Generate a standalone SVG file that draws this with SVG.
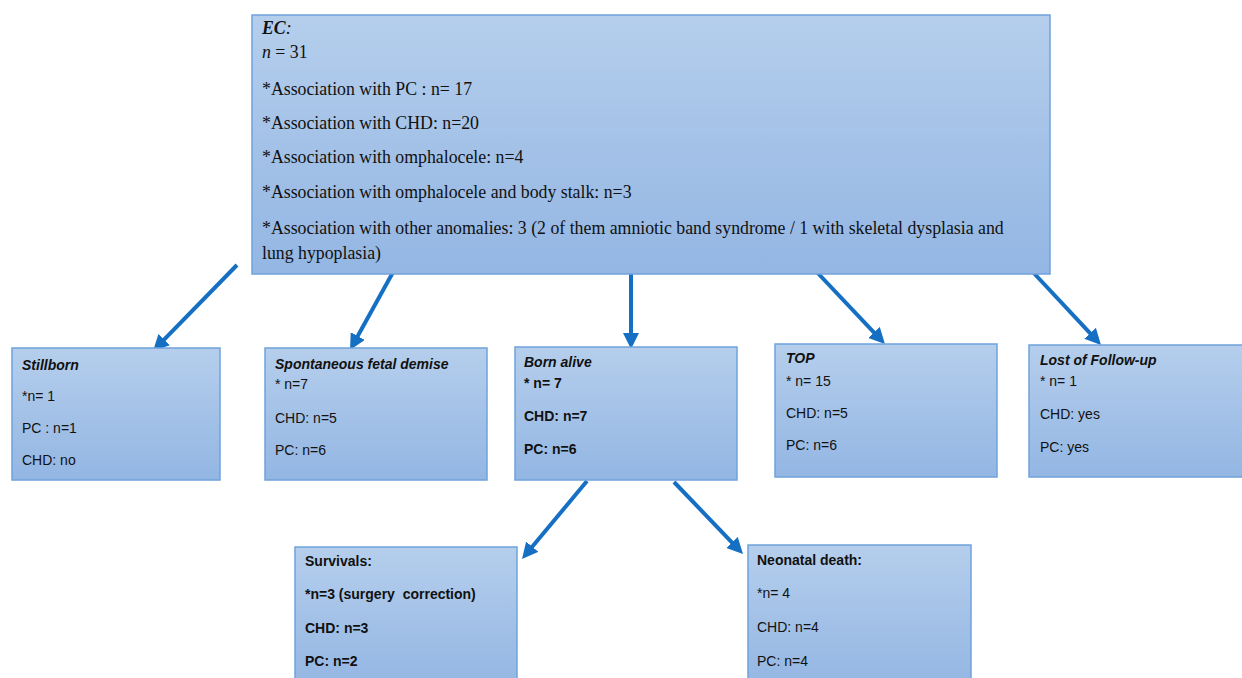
<svg xmlns="http://www.w3.org/2000/svg" width="1242" height="678" viewBox="0 0 1242 678">
<defs>
<linearGradient id="g" x1="0" y1="0" x2="0" y2="1">
<stop offset="0" stop-color="#B5CEEC"/>
<stop offset="1" stop-color="#93B6E3"/>
</linearGradient>
<marker id="ah" markerUnits="userSpaceOnUse" markerWidth="16" markerHeight="16" viewBox="0 0 16 16" refX="4" refY="8" orient="auto">
<path d="M0,0 L16,8 L0,16 z" fill="#1570C4"/>
</marker>
<style>
.box{fill:url(#g);stroke:#6FA3DC;stroke-width:1.5}
.ser{font-family:"Liberation Serif","Times New Roman",serif;font-size:17.8px;fill:#111}
.san{font-family:"Liberation Sans",Arial,sans-serif;font-size:14px;fill:#111}
.t{font-weight:bold;font-style:italic}
.b{font-weight:bold}
.arr{stroke:#1570C4;stroke-width:4;fill:none;marker-end:url(#ah)}
</style>
</defs>
<rect width="1242" height="678" fill="#fff"/>
<g id="connectors">
<line class="arr" x1="237" y1="265" x2="161.4" y2="342.4"/>
<line class="arr" x1="397" y1="265" x2="355.8" y2="339.5"/>
<line class="arr" x1="631" y1="265" x2="631" y2="337"/>
<line class="arr" x1="813" y1="268" x2="876.7" y2="335.3"/>
<line class="arr" x1="1030" y1="269" x2="1092.8" y2="336.2"/>
<line class="arr" x1="587" y1="481" x2="529.7" y2="549.8"/>
<line class="arr" x1="674" y1="482" x2="734.7" y2="545.3"/>
</g>
<g id="ec">
<rect class="box" x="252" y="15" width="798" height="259"/>
<text class="ser" x="262" y="34"><tspan font-weight="bold" font-style="italic">EC</tspan><tspan font-style="italic">:</tspan></text>
<text class="ser" x="262" y="58"><tspan font-style="italic">n</tspan> = 31</text>
<text class="ser" x="262" y="95">*Association with PC : n= 17</text>
<text class="ser" x="262" y="129">*Association with CHD: n=20</text>
<text class="ser" x="262" y="163">*Association with omphalocele: n=4</text>
<text class="ser" x="262" y="198">*Association with omphalocele and body stalk: n=3</text>
<text class="ser" x="262" y="234">*Association with other anomalies: 3 (2 of them amniotic band syndrome / 1 with skeletal dysplasia and</text>
<text class="ser" x="262" y="259">lung hypoplasia)</text>
</g>
<g id="stillborn">
<rect class="box" x="12" y="348" width="208" height="132"/>
<text class="san t" x="22" y="370">Stillborn</text>
<text class="san" x="22" y="401">*n= 1</text>
<text class="san" x="22" y="433">PC : n=1</text>
<text class="san" x="22" y="465">CHD: no</text>
</g>
<g id="spontaneous">
<rect class="box" x="265" y="348" width="222" height="132"/>
<text class="san t" x="275" y="369">Spontaneous fetal demise</text>
<text class="san" x="275" y="389">* n=7</text>
<text class="san" x="275" y="423">CHD: n=5</text>
<text class="san" x="275" y="455">PC: n=6</text>
</g>
<g id="bornalive">
<rect class="box" x="515" y="347" width="222" height="133"/>
<text class="san t" x="524" y="367">Born alive</text>
<text class="san b" x="524" y="388">* n= 7</text>
<text class="san b" x="524" y="421">CHD: n=7</text>
<text class="san b" x="524" y="454">PC: n=6</text>
</g>
<g id="top">
<rect class="box" x="775" y="344" width="222" height="133"/>
<text class="san t" x="786" y="363">TOP</text>
<text class="san" x="786" y="386">* n= 15</text>
<text class="san" x="786" y="418">CHD: n=5</text>
<text class="san" x="786" y="450">PC: n=6</text>
</g>
<g id="lost">
<rect class="box" x="1029" y="345" width="215" height="132"/>
<text class="san t" x="1040" y="365">Lost of Follow-up</text>
<text class="san" x="1040" y="386">* n= 1</text>
<text class="san" x="1040" y="419">CHD: yes</text>
<text class="san" x="1040" y="452">PC: yes</text>
</g>
<g id="survivals">
<rect class="box" x="295" y="547" width="222" height="140"/>
<text class="san b" x="305" y="566">Survivals:</text>
<text class="san b" x="305" y="599" xml:space="preserve">*n=3 (surgery  correction)</text>
<text class="san b" x="305" y="633">CHD: n=3</text>
<text class="san b" x="305" y="666">PC: n=2</text>
</g>
<g id="neonatal">
<rect class="box" x="748" y="545" width="223" height="142"/>
<text class="san b" x="757" y="565">Neonatal death:</text>
<text class="san" x="757" y="598">*n= 4</text>
<text class="san" x="757" y="632">CHD: n=4</text>
<text class="san" x="757" y="666">PC: n=4</text>
</g>
</svg>
